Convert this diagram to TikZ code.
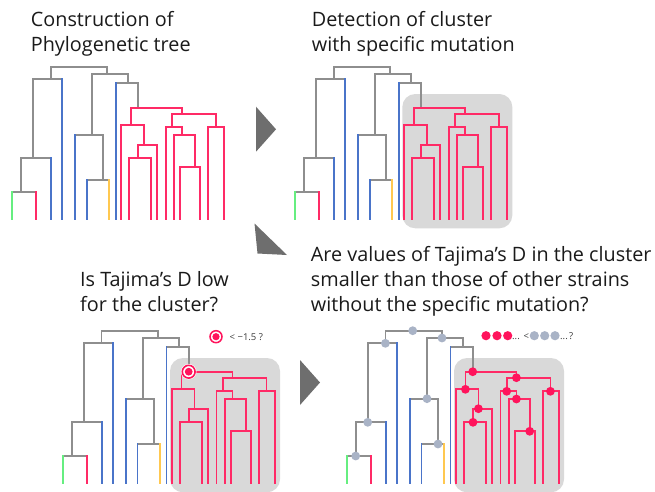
\documentclass[tikz,border=0pt]{standalone}
\usepackage{fontspec}
\setmainfont{Open Sans}
\definecolor{tgray}{HTML}{8E8E8E}
\definecolor{tblue}{HTML}{4A74C9}
\definecolor{tpink}{HTML}{FF2A66}
\definecolor{tgreen}{HTML}{66EE80}
\definecolor{torange}{HTML}{FFC850}
\definecolor{boxgray}{HTML}{D9D9D9}
\definecolor{arrowgray}{HTML}{6E6E6E}
\definecolor{dotgray}{HTML}{A9B3C6}
\definecolor{dotpink}{HTML}{FF145C}
\definecolor{txt}{HTML}{1A1A1A}
\newcommand\drawtreelines{%
  % gray backbone
  \draw[gl,tgray] (50.7,79.3) -- (50.7,66.7) -- (107.3,66.7) -- (107.3,74);
  \draw[gl,tgray] (33,158.3) -- (33,79.3) -- (62,79.3);
  \draw[gl,tgray] (21,192) -- (21,158.3) -- (51,158.3);
  \draw[gl,tgray] (12.3,192) -- (36.3,192);
  \draw[gl,tgray] (92.3,134.7) -- (92.3,74) -- (128.3,74) -- (128.3,82.7);
  \draw[gl,tgray] (115.7,82.7) -- (138,82.7) -- (138,107.7);
  \draw[gl,tgray] (75,134.7) -- (103.3,134.7) -- (103.3,180);
  \draw[gl,tgray] (86.7,180) -- (109.3,180);
  % blue leaves
  \draw[gl,tblue] (62,79.3) -- (62,219.3);
  \draw[gl,tblue] (51,158.3) -- (51,219.3);
  \draw[gl,tblue] (75,134.7) -- (75,219.3);
  \draw[gl,tblue] (86.7,180) -- (86.7,219.3);
  \draw[gl,tblue] (115.7,82.7) -- (115.7,219.3);
  % other leaves
  \draw[gl,tgreen] (12.3,192) -- (12.3,219.3);
  \draw[gl,tpink] (36.3,192) -- (36.3,219.3);
  \draw[gl,torange] (109.3,180) -- (109.3,219.3);
  % pink cluster
  \draw[gl,tpink] (130.7,125.3) -- (130.7,107.7) -- (181.7,107.7) -- (181.7,113.7);
  \draw[gl,tpink] (121.3,219.3) -- (121.3,125.3) -- (143.7,125.3) -- (143.7,144.7);
  \draw[gl,tpink] (138.3,158.3) -- (138.3,144.7) -- (157,144.7) -- (157,219.3);
  \draw[gl,tpink] (129.3,219.3) -- (129.3,158.3) -- (151,158.3) -- (151,219.3);
  \draw[gl,tpink] (172,127.3) -- (172,113.7) -- (215.7,113.7) -- (215.7,127.3);
  \draw[gl,tpink] (165.7,219.3) -- (165.7,127.3) -- (181.7,127.3) -- (181.7,135);
  \draw[gl,tpink] (174,219.3) -- (174,135) -- (195,135) -- (195,167.3);
  \draw[gl,tpink] (180.3,219.3) -- (180.3,167.3) -- (200.3,167.3) -- (200.3,219.3);
  \draw[gl,tpink] (208,219.3) -- (208,127.3) -- (224,127.3) -- (224,219.3);
}
\newcommand\drawclusterbox{%
  \fill[boxgray, rounded corners=13pt] (119.3,94) rectangle (229.3,228.3);
}
\begin{document}
\begin{tikzpicture}[x=1pt,y=-1pt,
  gl/.style={line width=1.8pt, line cap=rect, line join=miter},
  title/.style={anchor=base west, inner sep=0pt, align=left, text=txt,
    font=\fontsize{19.8}{25}\selectfont},
  small/.style={inner sep=0pt, text=txt!85, font=\fontsize{9.5}{11}\selectfont},
  arrowtri/.style={fill=arrowgray, draw=none},
  gdot/.style={fill=dotgray, draw=none},
  pdot/.style={fill=dotpink, draw=none}]
\useasboundingbox (0,0) rectangle (655,491);
\clip (0,0) rectangle (655,491);
\fill[white] (0,0) rectangle (655,491);

% titles (anchor = baseline of the last line)
\node[title] (t1) at (30.7,51.7) {Construction of\\Phylogenetic tree};
\node[title] (t2) at (311.7,51.7) {Detection of cluster\\with specific mutation};
\node[title] (t3) at (80,311) {Is Tajima’s D low\\for the cluster?};
\node[title] (t4) at (310.7,311.7) {Are values of Tajima’s D in the cluster\\smaller than those of other strains\\without the specific mutation?};

% panel 1
\begin{scope}
  \drawtreelines
\end{scope}

% panel 2
\begin{scope}[shift={(283,0)}]
  \drawclusterbox
  \drawtreelines
\end{scope}

% panel 3
\begin{scope}[shift={(50.7,264)}]
  \drawclusterbox
  \drawtreelines
  \fill[white] (138,107.7) circle (7.8pt);
  \draw[dotpink, line width=1.6pt] (138,107.7) circle (6.4pt);
  \fill[dotpink] (138,107.7) circle (3.9pt);
\end{scope}
% legend panel 3
\draw[dotpink, line width=1.5pt] (216,336.7) circle (6pt);
\fill[dotpink] (216,336.7) circle (3.6pt);
\node[small, anchor=west] (l3) at (229.5,337) {< −1.5 ?};

% panel 4
\begin{scope}[shift={(334.7,264)}]
  \drawclusterbox
  \drawtreelines
  \foreach \p in {(78,66.7),(50.7,79.3),(33,158.3),(21,192),(107.3,74),(92.3,134.7),(103.3,180)}
    \fill[gdot] \p circle (4.4pt);
  \foreach \p in {(138,107.7),(130.7,125.3),(143.7,144.7),(138.3,158.3),(181.7,113.7),(172,127.3),(215.7,127.3),(181.7,135),(195,167.3)}
    \fill[pdot] \p circle (4.4pt);
\end{scope}
% legend panel 4
\foreach \x in {486,497,507.7} \fill[pdot] (\x,335.7) circle (4.6pt);
\node[small, anchor=base west] (e1) at (512,339) {...};
\node[small, anchor=base west] (lt) at (523.5,339.5) {<};
\foreach \x in {534.3,544.7,555} \fill[gdot] (\x,335.7) circle (4.6pt);
\node[small, anchor=base west] (e2) at (560,339) {...};
\node[small, anchor=base west] (q) at (569,339.5) {?};

% arrows
\fill[arrowtri] (256,106.7) -- (276,129.3) -- (256,151.7) -- cycle;
\fill[arrowtri] (254.5,223.5) -- (257.5,253.5) -- (287,255) -- cycle;
\fill[arrowtri] (300,360) -- (320,382.5) -- (300,405) -- cycle;
\end{tikzpicture}
\end{document}
